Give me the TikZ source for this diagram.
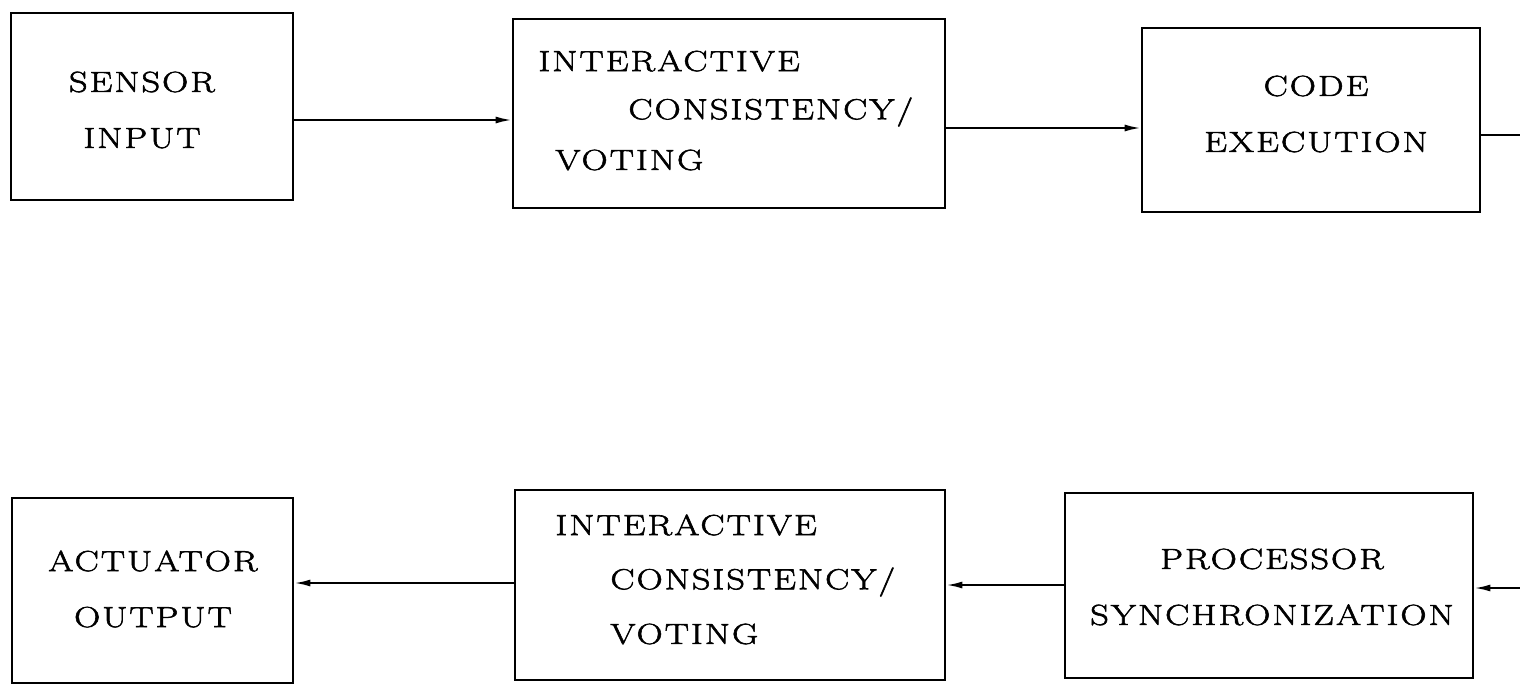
\documentclass[tikz,border=0pt]{standalone}
\usepackage{fontspec}
\setmainfont{Latin Modern Roman}[FakeStretch=1.25,LetterSpace=7,FakeBold=2]
\usetikzlibrary{arrows.meta,fit}
\begin{document}
\begin{tikzpicture}[x=0.5pt,y=-0.5pt,
  box/.style={draw, line width=1.4pt, rectangle, inner sep=0pt},
  lbl/.style={inner sep=0pt, font=\fontsize{14.5}{28}\selectfont, align=center},
  ln/.style={inner sep=0pt, font=\fontsize{14.5}{28}\selectfont, anchor=west},
  arr/.style={line width=1pt, -{Latex[length=8pt,width=3.5pt]}},
  plain/.style={line width=1pt}]
\useasboundingbox (0,0) rectangle (1520,685);
% top row
\node[box, fit={(11,13) (293,200)}] (sensor) {};
\node[lbl] (sensorT) at (142,110) {SENSOR\\INPUT};
\node[box, fit={(513,19) (945,208)}] (ic1) {};
\node[ln] (ic1a) at (538,61) {INTERACTIVE};
\node[ln] (ic1b) at (628,112) {CONSISTENCY/};
\node[ln] (ic1c) at (555,160) {VOTING};
\node[box, fit={(1142,28) (1480,212)}] (code) {};
\node[lbl] (codeT) at (1316,114) {CODE\\EXECUTION};
% bottom row
\node[box, fit={(12,498) (293,683)}] (act) {};
\node[lbl] (actT) at (153,589) {ACTUATOR\\OUTPUT};
\node[box, fit={(515,490) (945,680)}] (ic2) {};
\node[ln] (ic2a) at (555,525) {INTERACTIVE};
\node[ln] (ic2b) at (610,582) {CONSISTENCY/};
\node[ln] (ic2c) at (610,634) {VOTING};
\node[box, fit={(1065,493) (1473,678)}] (proc) {};
\node[lbl] (procT) at (1272,587) {PROCESSOR\\SYNCHRONIZATION};
% connectors
\coordinate (outR) at (1520,135);
\coordinate (inR) at (1520,588);
\draw[arr] (sensor.east |- 0,120) -- (ic1.west |- 0,120);
\draw[arr] (ic1.east |- 0,128) -- (code.west |- 0,128);
\draw[plain] (code.east |- outR) -- (outR);
\draw[arr] (inR) -- (proc.east |- inR);
\draw[arr] (proc.west |- 0,585) -- (ic2.east |- 0,585);
\draw[arr] (ic2.west |- 0,583) -- (act.east |- 0,583);
\end{tikzpicture}
\end{document}
